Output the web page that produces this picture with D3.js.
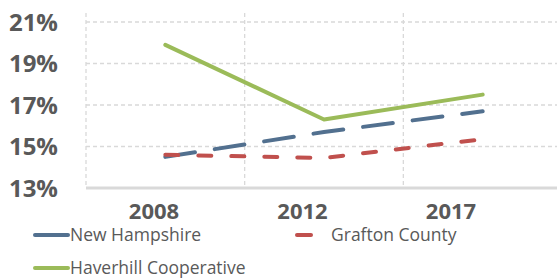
<!DOCTYPE html>
<html>
<head>
<meta charset="utf-8">
<script src="https://cdn.jsdelivr.net/npm/d3@7"></script>
<style>
  body { margin: 0; background: #fff; }
  text { font-family: "Open Sans", "Liberation Sans", sans-serif; }
</style>
</head>
<body>
<div id="chart"></div>
<script>
// chart values
var years = ["2008", "2012", "2017"];
var newHampshire = [14.5, 15.7, 16.7];
var graftonCounty = [14.6, 14.45, 15.35];
var haverhill = [19.9, 16.3, 17.5];
var yTicks = [13, 15, 17, 19, 21];

var series = [
    { name: "New Hampshire", values: newHampshire, color: "#52708f", dash: "30,20" },
    { name: "Grafton County", values: graftonCounty, color: "#c0504d", dash: "13,20" },
    { name: "Haverhill Cooperative", values: haverhill, color: "#9bbb59", dash: null }
];

var W = 557, H = 280;
var margin = { top: 22, right: -5, bottom: 92, left: 86 };
var width = W - margin.left - margin.right,
    height = H - margin.top - margin.bottom;

var svg = d3.select("#chart").append("svg")
    .attr("width", W)
    .attr("height", H);

var g = svg.append("g")
    .attr("transform", "translate(" + margin.left + "," + margin.top + ")");

// scales
var x = d3.scaleBand().domain(years).range([0, width]).padding(0);
var y = d3.scaleLinear().domain([13, 21]).range([height, 0]);

// horizontal gridlines
g.selectAll(".hgrid")
    .data(yTicks.slice(1))
    .enter().append("line")
    .attr("x1", 0).attr("x2", width)
    .attr("y1", function(d) { return y(d); })
    .attr("y2", function(d) { return y(d); })
    .style("stroke", "#d9d9d9")
    .style("stroke-width", 1.3)
    .style("stroke-dasharray", "4,3");

// vertical gridlines at category boundaries
g.selectAll(".vgrid")
    .data(years)
    .enter().append("line")
    .attr("x1", function(d) { return x(d); })
    .attr("x2", function(d) { return x(d); })
    .attr("y1", -9).attr("y2", height)
    .style("stroke", "#d9d9d9")
    .style("stroke-width", 1.3)
    .style("stroke-dasharray", "4,3");

// bottom axis line
g.append("line")
    .attr("x1", 0).attr("x2", width)
    .attr("y1", height).attr("y2", height)
    .style("stroke", "#d9d9d9")
    .style("stroke-width", 3);

// y tick labels
g.selectAll(".ylab")
    .data(yTicks)
    .enter().append("text")
    .attr("x", -28)
    .attr("y", function(d) { return y(d); })
    .attr("dy", "0.36em")
    .attr("text-anchor", "end")
    .style("font-size", "24px")
    .style("font-weight", "bold")
    .style("fill", "#595959")
    .text(function(d) { return d + "%"; });

// x labels sit left of the point centres, like the original
var xLab = d3.scalePoint().domain(years).range([154, 451]);
svg.selectAll(".xlab")
    .data(years)
    .enter().append("text")
    .attr("x", function(d) { return xLab(d); })
    .attr("y", 219)
    .attr("text-anchor", "middle")
    .style("font-size", "22px")
    .style("font-weight", "bold")
    .style("fill", "#595959")
    .text(function(d) { return d; });

// lines
var line = d3.line()
    .x(function(d, i) { return x(years[i]) + x.bandwidth() / 2; })
    .y(function(d) { return y(d); });

series.forEach(function(s) {
    g.append("path")
        .datum(s.values)
        .attr("d", line)
        .style("fill", "none")
        .style("stroke", s.color)
        .style("stroke-width", 4)
        .style("stroke-linecap", "round")
        .style("stroke-linejoin", "round")
        .style("stroke-dasharray", s.dash);
});

// legend
var legendPos = [
    { lx1: 35, lx2: 68, ly: 235, tx: 70 },
    { lx1: 297, lx2: 311, ly: 235, tx: 331 },
    { lx1: 35, lx2: 68, ly: 268, tx: 70 }
];

var legend = svg.selectAll(".legend")
    .data(series)
    .enter().append("g")
    .attr("class", "legend");

legend.append("line")
    .attr("x1", function(d, i) { return legendPos[i].lx1; })
    .attr("x2", function(d, i) { return legendPos[i].lx2; })
    .attr("y1", function(d, i) { return legendPos[i].ly; })
    .attr("y2", function(d, i) { return legendPos[i].ly; })
    .style("stroke", function(d) { return d.color; })
    .style("stroke-width", 4)
    .style("stroke-linecap", "round");

legend.append("text")
    .attr("x", function(d, i) { return legendPos[i].tx; })
    .attr("y", function(d, i) { return legendPos[i].ly; })
    .attr("dy", "0.36em")
    .style("font-size", "17.5px")
    .style("fill", "#595959")
    .text(function(d) { return d.name; });
</script>
</body>
</html>
